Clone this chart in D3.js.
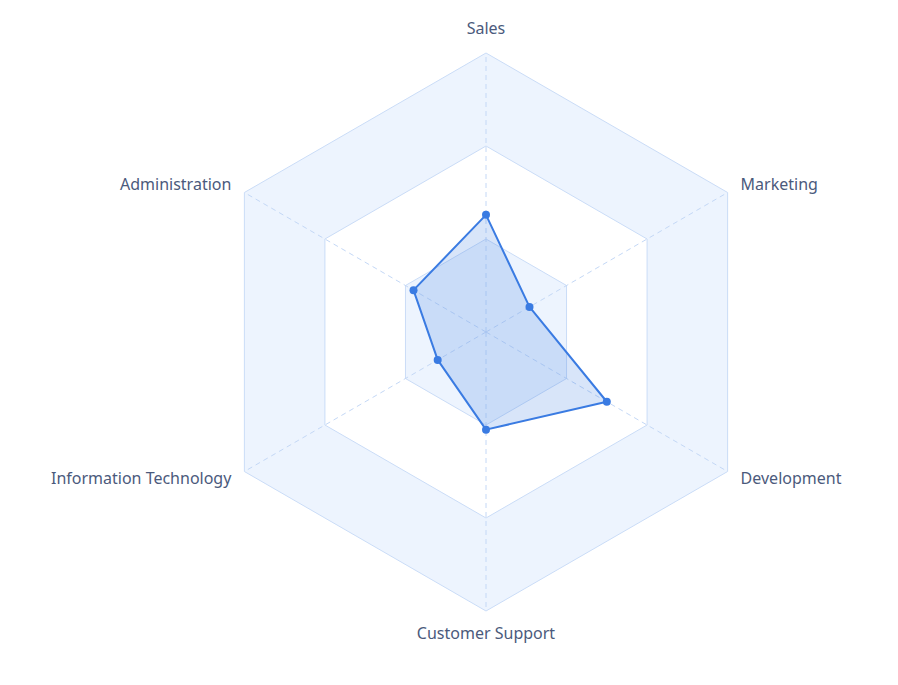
<!DOCTYPE html>
<html>
<head>
<meta charset="utf-8">
<script src="https://cdn.jsdelivr.net/npm/d3@7/dist/d3.min.js"></script>
<style>
html,body{margin:0;padding:0;background:#fff;}
svg{display:block;}
</style>
</head>
<body>
<svg id="chart" width="898" height="685"></svg>
<script>
// Data
const indicators = ["Sales", "Administration", "Information Technology", "Customer Support", "Development", "Marketing"];
const maxValues = [10000, 10000, 100000, 100000, 100000, 100000];
const values = [4200, 3000, 20000, 35000, 50000, 18000];
const splitLevels = [1, 2, 3];

const svg = d3.select("#chart");
const cx = 486, cy = 332, R = 279, nameGap = 15;
const n = indicators.length;

const angle = d3.scaleLinear().domain([0, n]).range([-Math.PI / 2, -Math.PI / 2 - 2 * Math.PI]);
const levelScale = d3.scaleLinear().domain([0, splitLevels.length]).range([0, R]);
const rScales = maxValues.map(m => d3.scaleLinear().domain([0, m]).range([0, R]));

function pt(i, r) {
  const a = angle(i);
  return [cx + r * Math.cos(a), cy + r * Math.sin(a)];
}
const line = d3.line().curve(d3.curveLinearClosed);

const g = svg.append("g");

// split areas (alternate from inside)
const areaColors = ["rgba(216,230,252,0.45)", "rgba(255,255,255,0)"];
for (let l = splitLevels.length; l >= 1; l--) {
  const outer = d3.range(n).map(i => pt(i, levelScale(l)));
  const inner = d3.range(n).map(i => pt(i, levelScale(l - 1)));
  const d = line(outer) + (l > 1 ? line(inner.slice().reverse()) : "");
  g.append("path").attr("d", d).attr("fill", areaColors[(l - 1) % 2]).attr("fill-rule", "evenodd");
}
// split lines
splitLevels.forEach(l => {
  g.append("path")
    .attr("d", line(d3.range(n).map(i => pt(i, levelScale(l)))))
    .attr("fill", "none").attr("stroke", "#cadcf7").attr("stroke-width", 1);
});
// axis lines
d3.range(n).forEach(i => {
  const p = pt(i, R);
  g.append("line").attr("x1", cx).attr("y1", cy).attr("x2", p[0]).attr("y2", p[1])
    .attr("stroke", "#c4d8f6").attr("stroke-width", 1).attr("stroke-dasharray", "5,4");
});

// labels
indicators.forEach((name, i) => {
  const a = angle(i);
  const p = pt(i, R + nameGap);
  const c = Math.cos(a), s = Math.sin(a);
  let anchor = Math.abs(c) < 0.01 ? "middle" : (c > 0 ? "start" : "end");
  let baseline = Math.abs(c) < 0.01 ? (s < 0 ? "text-after-edge" : "text-before-edge") : "central";
  let dy = Math.abs(c) < 0.01 ? (s < 0 ? 1 : -4) : -1;
  g.append("text").attr("x", p[0]).attr("y", p[1] + dy)
    .attr("text-anchor", anchor).attr("dominant-baseline", baseline)
    .attr("font-family", "'Noto Sans', 'Open Sans', sans-serif").attr("font-size", 16)
    .attr("fill", "#4b5a7c").text(name);
});

// series
const color = "#3a7be2";
const pts = values.map((v, i) => pt(i, rScales[i](v)));
g.append("path").attr("d", line(pts))
  .attr("fill", "rgba(58,123,226,0.2)").attr("stroke", color).attr("stroke-width", 2)
  .attr("stroke-linejoin", "round");
g.selectAll("circle.pt").data(pts).enter().append("circle")
  .attr("cx", d => d[0]).attr("cy", d => d[1]).attr("r", 4).attr("fill", color);
</script>
</body>
</html>
